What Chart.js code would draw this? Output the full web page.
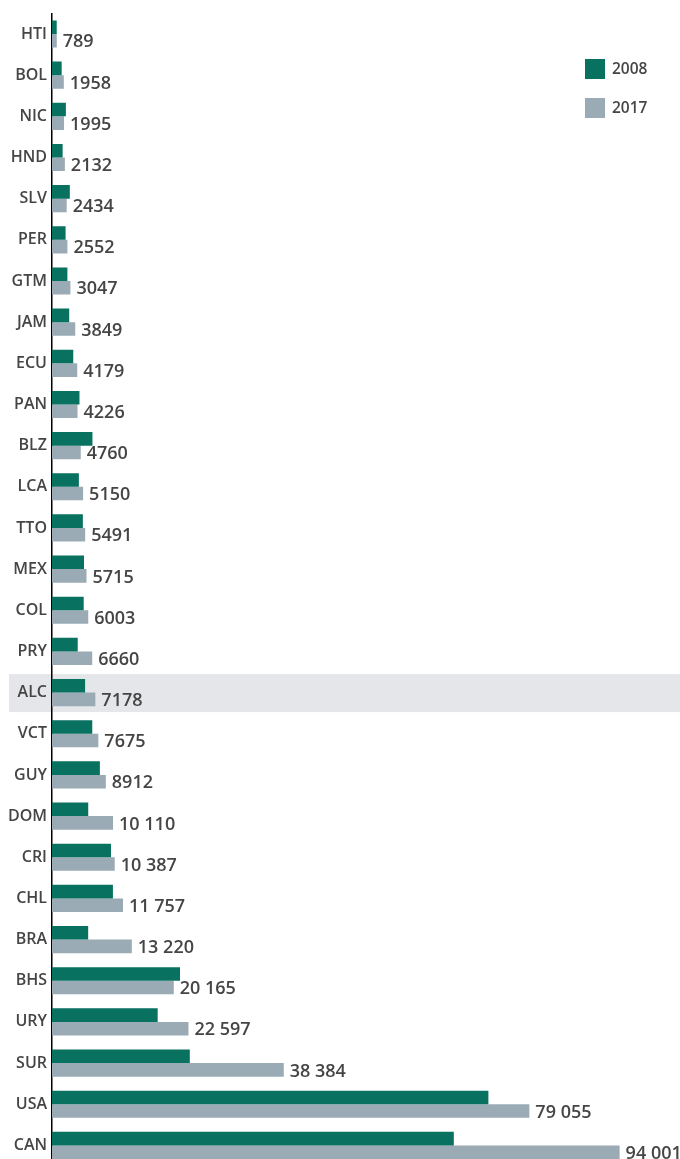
<!DOCTYPE html>
<html>
<head>
<meta charset="utf-8">
<script src="https://cdn.jsdelivr.net/npm/chart.js@4.4.1/dist/chart.umd.min.js"></script>
<style>
  html, body { margin: 0; padding: 0; background: #fff; overflow: hidden; }
  #c { display: block; }
</style>
</head>
<body>
<canvas id="c" width="680" height="1166"></canvas>
<script>
const categories = ['HTI','BOL','NIC','HND','SLV','PER','GTM','JAM','ECU','PAN','BLZ','LCA','TTO','MEX','COL','PRY','ALC','VCT','GUY','DOM','CRI','CHL','BRA','BHS','URY','SUR','USA','CAN'];
const values2008 = [780,1600,2300,1760,2950,2250,2550,2850,3520,4550,6700,4450,5110,5300,5250,4260,5480,6670,7930,6000,9770,10090,5990,21200,17500,22820,72270,66540];
const values2017 = [789,1958,1995,2132,2434,2552,3047,3849,4179,4226,4760,5150,5491,5715,6003,6660,7178,7675,8912,10110,10387,11757,13220,20165,22597,38384,79055,94001];
const seriesNames = ['2008','2017'];
const highlightCategory = 'ALC';

const GREEN = '#08715f';
const GRAY = '#9aabb6';
const TEXT = '#454545';
const FONT = '"Open Sans", "Noto Sans", sans-serif';

function fmt(v) {
  const s = String(v);
  if (s.length <= 4) return s;
  return s.replace(/\B(?=(\d{3})+(?!\d))/g, ' ');
}

const highlightPlugin = {
  id: 'highlight',
  beforeDraw(chart) {
    const y = chart.scales.y;
    const idx = categories.indexOf(highlightCategory);
    const cy = y.getPixelForValue(idx);
    const ctx = chart.ctx;
    ctx.save();
    ctx.fillStyle = '#e4e6e9';
    ctx.fillRect(9, cy - 18.5, chart.width - 9, 38);
    ctx.restore();
  }
};

const valueLabelPlugin = {
  id: 'valueLabels',
  afterDatasetsDraw(chart) {
    const meta = chart.getDatasetMeta(1);
    const ctx = chart.ctx;
    ctx.save();
    ctx.font = '600 18px ' + FONT;
    ctx.fillStyle = TEXT;
    ctx.textAlign = 'left';
    ctx.textBaseline = 'middle';
    meta.data.forEach((el, i) => {
      ctx.fillText(fmt(values2017[i]), el.x + 6, el.y + 1.5);
    });
    ctx.restore();
  }
};

const legendPlugin = {
  id: 'customLegend',
  afterDraw(chart) {
    const ctx = chart.ctx;
    const x0 = chart.chartArea.right - 95;
    const colors = [GREEN, GRAY];
    ctx.save();
    ctx.font = '600 15.5px ' + FONT;
    ctx.textBaseline = 'middle';
    ctx.textAlign = 'left';
    seriesNames.forEach((name, i) => {
      const top = 59 + i * 39;
      ctx.fillStyle = colors[i];
      ctx.fillRect(x0, top, 20, 20);
      ctx.fillStyle = TEXT;
      ctx.fillText(name, x0 + 27, top + 11);
    });
    ctx.restore();
  }
};

new Chart(document.getElementById('c'), {
  type: 'bar',
  data: {
    labels: categories,
    datasets: [
      { label: seriesNames[0], data: values2008, backgroundColor: GREEN, borderWidth: 0, barPercentage: 1, categoryPercentage: 0.66 },
      { label: seriesNames[1], data: values2017, backgroundColor: GRAY, borderWidth: 0, barPercentage: 1, categoryPercentage: 0.66 }
    ]
  },
  options: {
    indexAxis: 'y',
    responsive: false,
    devicePixelRatio: 1,
    animation: false,
    layout: { padding: { top: 13.4, right: 0, bottom: 0, left: 0 } },
    plugins: { legend: { display: false }, tooltip: { enabled: false } },
    scales: {
      x: { display: false, min: 0, max: 104000 },
      y: {
        grid: { display: false, drawTicks: false },
        border: { display: true, color: '#000', width: 1.5 },
        ticks: { color: TEXT, font: { family: FONT, size: 16, weight: '600' }, padding: 5 },
        afterFit(scale) { scale.width = 52; scale.paddingTop = 0; scale.paddingBottom = 0; }
      }
    }
  },
  plugins: [highlightPlugin, valueLabelPlugin, legendPlugin]
});
</script>
</body>
</html>
